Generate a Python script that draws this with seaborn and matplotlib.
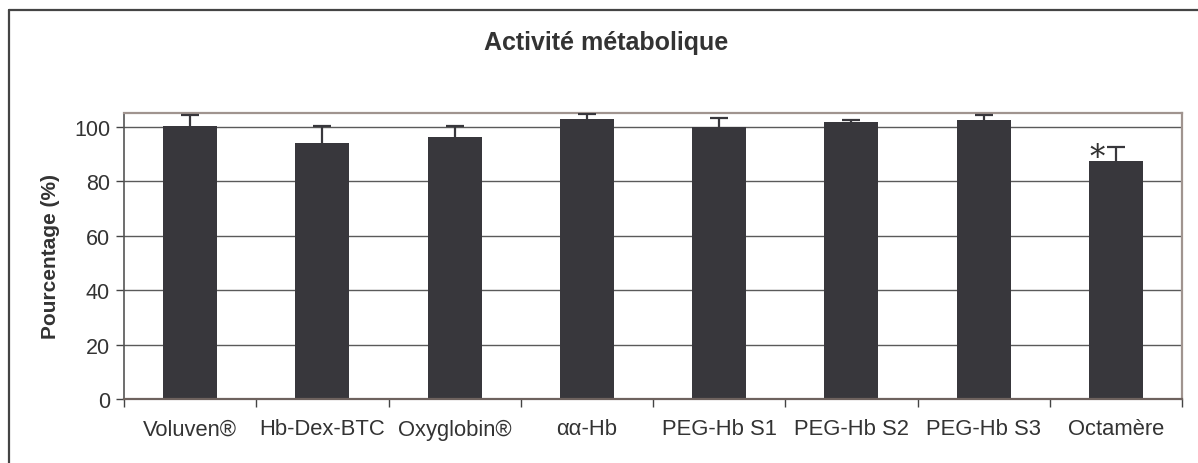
import matplotlib
matplotlib.use("Agg")
import matplotlib.pyplot as plt
import seaborn as sns
import pandas as pd
import numpy as np
from matplotlib.lines import Line2D

categories = ["Voluven®", "Hb-Dex-BTC", "Oxyglobin®", "αα-Hb",
              "PEG-Hb S1", "PEG-Hb S2", "PEG-Hb S3", "Octamère"]
values = [100.2, 94.1, 96.2, 102.9, 99.7, 101.6, 102.6, 87.3]
errors = [4.2, 6.0, 4.2, 1.6, 3.5, 1.0, 1.5, 5.3]
yticks = [0, 20, 40, 60, 80, 100]
title = "Activité métabolique"
ylabel = "Pourcentage (%)"
star_label = "*"

sns.set_theme(style="white")
plt.rcParams['font.family'] = ['Liberation Sans', 'DejaVu Sans']

bar_color = "#38373c"
text_color = "#333333"

fig = plt.figure(figsize=(11.98, 4.64), dpi=100)
ax = fig.add_axes([124/1198, 1-400/464, (1182-124)/1198, (400-114)/464])

df = pd.DataFrame({"cat": categories, "val": values})
sns.barplot(data=df, x="cat", y="val", color=bar_color, saturation=1,
            width=0.41, ax=ax, errorbar=None)
for p in ax.patches:
    p.set_edgecolor("none")

xs = np.arange(len(categories))
eb = ax.errorbar(xs, values, yerr=[np.zeros(len(values)), errors], fmt="none",
                 ecolor=bar_color, elinewidth=1.6, capsize=6.5, capthick=1.6, zorder=3)
# keep only the upper caps (Excel "plus" error bars)
caplines = eb[1]
if len(caplines) >= 2:
    caplines[0].remove()

ax.set_ylim(0, 105)
ax.set_xlim(-0.5, len(categories) - 0.5)
ax.set_yticks(yticks)
ax.set_yticklabels([str(t) for t in yticks], fontsize=15.5, color=text_color)
ax.yaxis.grid(True, color="#5a5a5a", linewidth=1.0)
ax.set_axisbelow(True)

# x major ticks at category boundaries, labels at centers via minor ticks
ax.set_xticks(np.arange(-0.5, len(categories)), minor=False)
ax.set_xticklabels([])
ax.set_xticks(xs, minor=True)
ax.set_xticklabels(categories, minor=True, fontsize=15.8, color=text_color)
ax.tick_params(axis="x", which="major", length=6, width=1, color="#444444", direction="out", bottom=True)
ax.tick_params(axis="x", which="minor", length=0, pad=14)
ax.tick_params(axis="y", length=6, width=1, color="#444444", direction="out", left=True, pad=4)

ax.set_xlabel("")
ax.set_ylabel(ylabel, fontsize=15, fontweight="bold", color=text_color, labelpad=10)

for side in ["top", "right"]:
    ax.spines[side].set_visible(True)
    ax.spines[side].set_color("#a0948f")
    ax.spines[side].set_linewidth(1.6)
ax.spines["bottom"].set_color("#6e625e")
ax.spines["bottom"].set_linewidth(1.6)
ax.spines["left"].set_color("#555555")
ax.spines["left"].set_linewidth(1.2)

ax.text(6.86, 88.8, star_label, fontsize=22, color=text_color, ha="center", va="center",
        family=["DejaVu Serif"])

fig.text(606/1198, 1-43/464, title, fontsize=18, fontweight="bold", color=text_color,
         ha="center", va="center")

# outer chart border (top and left visible)
fig.add_artist(Line2D([9/1198, 1.0], [1-11/464, 1-11/464], transform=fig.transFigure,
                      color="#444444", linewidth=1.6))
fig.add_artist(Line2D([9/1198, 9/1198], [0.0, 1-11/464], transform=fig.transFigure,
                      color="#444444", linewidth=1.6))

fig.savefig("out.png", dpi=100, facecolor="white")
